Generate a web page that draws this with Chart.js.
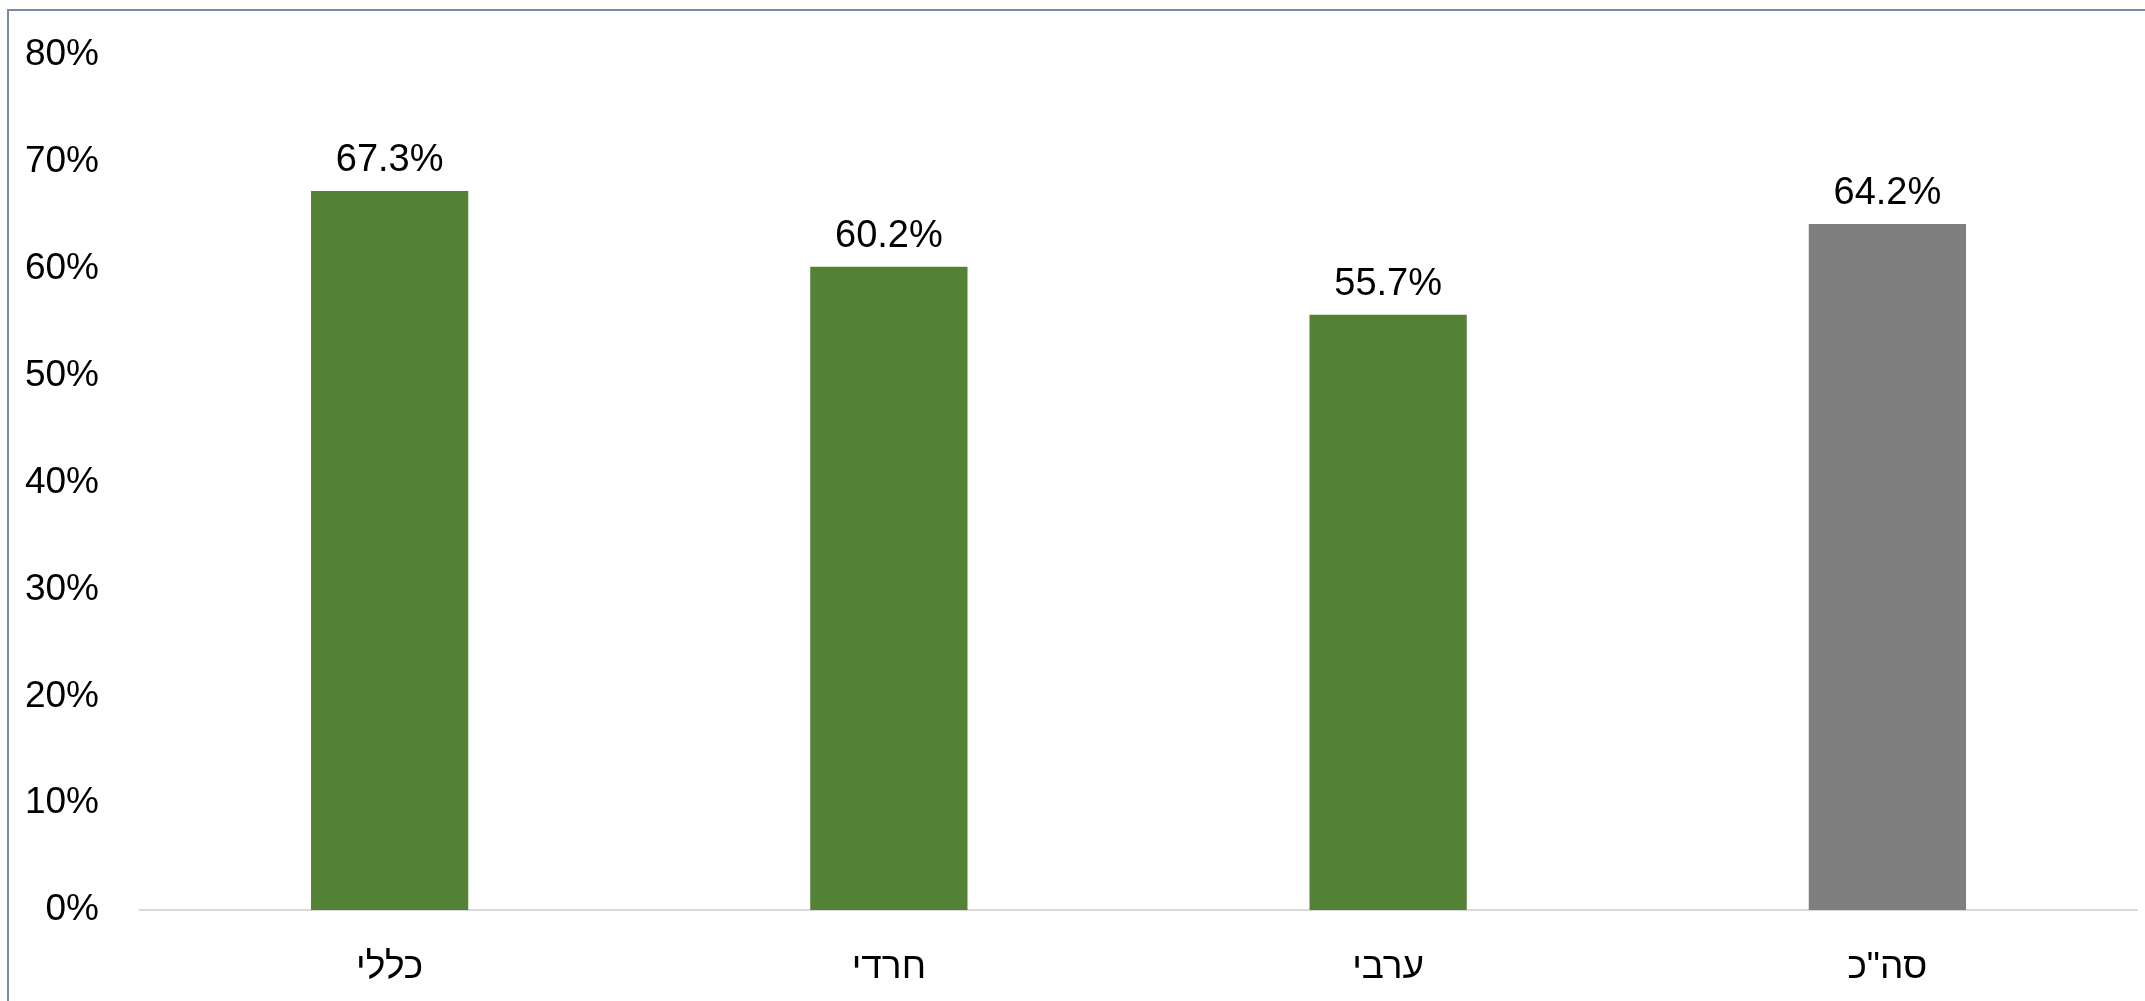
<!DOCTYPE html>
<html>
<head>
<meta charset="utf-8">
<script src="https://cdn.jsdelivr.net/npm/chart.js@4.4.0/dist/chart.umd.min.js"></script>
<style>
  body { margin: 0; background: #ffffff; }
  #chart { display: block; }
</style>
</head>
<body>
<canvas id="chart" width="2145" height="1001"></canvas>
<script>
var categories = ['כללי', 'חרדי', 'ערבי', 'סה"כ'];
var values = [67.3, 60.2, 55.7, 64.2];
var yTicks = [0, 10, 20, 30, 40, 50, 60, 70, 80];

var barColors = ['#538135', '#538135', '#538135', '#7f7f7f'];
var font = "'Liberation Sans', 'DejaVu Sans', sans-serif";

// frame around the chart (left and top edges only are visible)
var framePlugin = {
    id: 'frame',
    beforeDraw: function (chart) {
        var ctx = chart.ctx;
        ctx.save();
        ctx.strokeStyle = '#7a8aa4';
        ctx.lineWidth = 2;
        ctx.beginPath();
        ctx.moveTo(8, chart.height);
        ctx.lineTo(8, 10);
        ctx.lineTo(chart.width, 10);
        ctx.stroke();
        ctx.restore();
    }
};

// value labels above bars
var valueLabels = {
    id: 'valueLabels',
    afterDatasetsDraw: function (chart) {
        var ctx = chart.ctx;
        var meta = chart.getDatasetMeta(0);
        ctx.save();
        ctx.font = '38px ' + font;
        ctx.fillStyle = '#000000';
        ctx.textAlign = 'center';
        ctx.textBaseline = 'alphabetic';
        meta.data.forEach(function (bar, i) {
            ctx.fillText(values[i].toFixed(1) + '%', bar.x, bar.y - 20);
        });
        ctx.restore();
    }
};

var ctx = document.getElementById('chart');
var barChart = new Chart(ctx, {
    type: 'bar',
    data: {
        labels: categories,
        datasets: [{
            data: values,
            backgroundColor: barColors,
            borderWidth: 0,
            categoryPercentage: 1.0,
            barPercentage: 0.315
        }]
    },
    options: {
        responsive: false,
        animation: false,
        layout: { padding: { top: 39, right: 8, left: 0, bottom: 0 } },
        plugins: {
            legend: { display: false },
            tooltip: { enabled: false }
        },
        scales: {
            x: {
                grid: { display: false },
                border: { color: '#d9d9d9', width: 2 },
                ticks: {
                    color: '#000000',
                    font: { family: font, size: 37 },
                    padding: 28,
                    maxRotation: 0
                },
                afterFit: function (scale) { scale.height = 91; }
            },
            y: {
                min: 0,
                max: 80,
                afterBuildTicks: function (scale) {
                    scale.ticks = yTicks.map(function (v) { return { value: v }; });
                },
                grid: { display: false },
                border: { display: false },
                ticks: {
                    color: '#000000',
                    font: { family: font, size: 37 },
                    padding: 33,
                    callback: function (v) { return v + '%'; }
                },
                afterFit: function (scale) { scale.width = 140; }
            }
        }
    },
    plugins: [framePlugin, valueLabels]
});
</script>
</body>
</html>
